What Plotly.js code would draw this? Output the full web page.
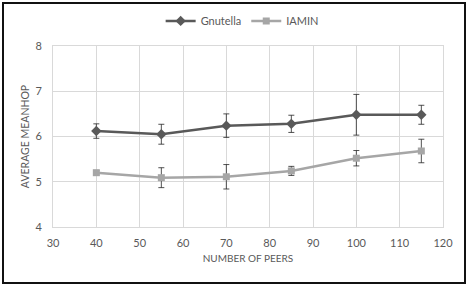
<!DOCTYPE html>
<html>
<head>
<meta charset="utf-8">
<script src="https://cdn.plot.ly/plotly-3.0.1.min.js"></script>
<style>
html,body{margin:0;padding:0;background:#fff;}
#frame{position:absolute;left:2px;top:2px;width:460px;height:278px;border:2px solid #111;box-sizing:content-box;pointer-events:none;}
#chart{position:absolute;left:0;top:0;width:470px;height:286px;}
</style>
</head>
<body>
<div id="chart"></div>
<div id="frame"></div>
<script>
const peers = [40, 55, 70, 85, 100, 115];
const gnutella = [6.12, 6.05, 6.24, 6.28, 6.48, 6.48];
const gnutellaErr = [0.16, 0.22, 0.26, 0.19, 0.45, 0.21];
const iamin = [5.20, 5.09, 5.11, 5.24, 5.52, 5.68];
const iaminErr = [0.05, 0.22, 0.27, 0.10, 0.17, 0.26];
const xTicks = [30, 40, 50, 60, 70, 80, 90, 100, 110, 120];
const yTicks = [4, 5, 6, 7, 8];

const fontFam = 'Lato, "Open Sans", sans-serif';
const traces = [
  {
    x: peers, y: gnutella, name: 'Gnutella', type: 'scatter', mode: 'lines+markers',
    line: {color: '#595959', width: 2.5},
    marker: {symbol: 'diamond', size: 8, color: '#595959'},
    error_y: {type: 'data', array: gnutellaErr, visible: true, color: '#262626', thickness: 0.8, width: 3}
  },
  {
    x: peers, y: iamin, name: 'IAMIN', type: 'scatter', mode: 'lines+markers',
    line: {color: '#a6a6a6', width: 2.5},
    marker: {symbol: 'square', size: 7, color: '#a6a6a6'},
    error_y: {type: 'data', array: iaminErr, visible: true, color: '#262626', thickness: 0.8, width: 3}
  }
];

const layout = {
  width: 470, height: 286,
  margin: {l: 53, r: 27, t: 46, b: 59, autoexpand: false},
  paper_bgcolor: '#fff', plot_bgcolor: '#fff',
  font: {family: fontFam, color: '#595959', size: 11},
  showlegend: true,
  legend: {orientation: 'h', x: 0.485, xanchor: 'center', yref: 'container', y: 0.927, yanchor: 'middle',
           font: {size: 11, color: '#595959'}, itemwidth: 30},
  xaxis: {
    range: [30, 120], tickvals: xTicks, ticktext: xTicks.map(String),
    showgrid: true, gridcolor: '#d9d9d9', gridwidth: 1, zeroline: false,
    showline: true, linecolor: '#d9d9d9', mirror: true,
    ticks: '', ticklabelstandoff: 6, tickfont: {size: 11, color: '#595959'},
    title: {text: 'NUMBER OF PEERS', font: {size: 10, color: '#595959'}, standoff: 6}
  },
  yaxis: {
    range: [4, 8], tickvals: yTicks, ticktext: yTicks.map(String),
    showgrid: true, gridcolor: '#d9d9d9', gridwidth: 1, zeroline: false,
    showline: true, linecolor: '#d9d9d9', mirror: true,
    ticks: '', ticklabelstandoff: 8, tickfont: {size: 11, color: '#595959'},
    title: {text: 'AVERAGE MEANHOP', font: {size: 10.5, color: '#595959'}, standoff: 3}
  }
};

Plotly.newPlot('chart', traces, layout, {displayModeBar: false, staticPlot: true});
</script>
</body>
</html>
